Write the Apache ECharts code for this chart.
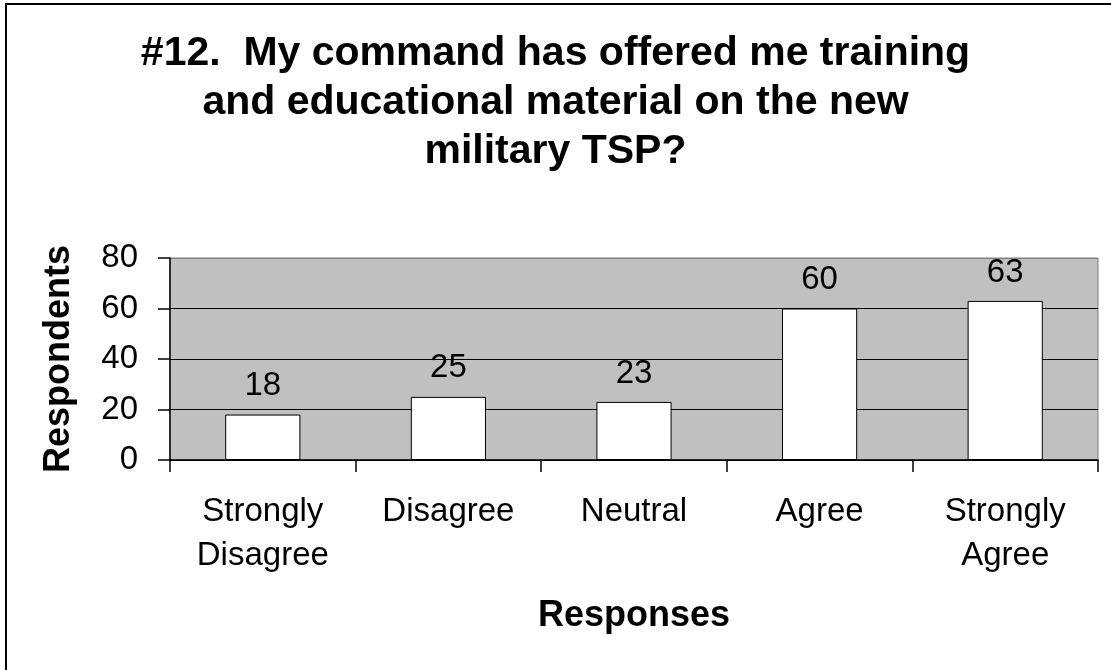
<!DOCTYPE html>
<html>
<head>
<meta charset="utf-8">
<script src="https://cdn.jsdelivr.net/npm/echarts@6/dist/echarts.min.js"></script>
<style>
  html, body { margin: 0; padding: 0; background: #fff; }
  #chart { width: 1111px; height: 670px; }
</style>
</head>
<body>
<div id="chart"></div>
<script>
var categories = ['Strongly\nDisagree', 'Disagree', 'Neutral', 'Agree', 'Strongly\nAgree'];
var respondents = [18, 25, 23, 60, 63];
var yTicks = { min: 0, max: 80, interval: 20 };

var fontFamily = '"Liberation Sans", Arial, sans-serif';
var chartDom = document.getElementById('chart');
var myChart = echarts.init(chartDom);

var option = {
  animation: false,
  backgroundColor: '#fff',
  textStyle: { fontFamily: fontFamily, color: '#000' },
  title: {
    text: '#12.  My command has offered me training\nand educational material on the new\nmilitary TSP?',
    left: 'center',
    top: 29,
    padding: 0,
    textStyle: {
      fontFamily: fontFamily,
      fontSize: 41,
      fontWeight: 'bold',
      color: '#000',
      lineHeight: 49,
      align: 'center'
    }
  },
  graphic: [{
    type: 'rect',
    shape: { x: 6, y: 4, width: 1200, height: 800 },
    style: { fill: 'none', stroke: '#000', lineWidth: 2 },
    silent: true
  }],
  grid: {
    left: 170,
    right: 13,
    top: 258,
    bottom: 210,
    show: true,
    backgroundColor: '#C0C0C0',
    borderColor: '#808080',
    borderWidth: 1
  },
  xAxis: {
    type: 'category',
    data: categories,
    name: 'Responses',
    nameLocation: 'middle',
    nameGap: 138,
    nameTextStyle: { fontFamily: fontFamily, fontSize: 36, fontWeight: 'bold', color: '#000' },
    axisLine: { show: true, lineStyle: { color: '#000', width: 1.5 } },
    axisTick: { show: true, length: 12, lineStyle: { color: '#000', width: 1.5 } },
    axisLabel: {
      fontFamily: fontFamily,
      fontSize: 33,
      color: '#000',
      lineHeight: 44,
      margin: 30,
      interval: 0
    },
    splitLine: { show: false }
  },
  yAxis: {
    type: 'value',
    min: yTicks.min,
    max: yTicks.max,
    interval: yTicks.interval,
    name: 'Respondents',
    nameLocation: 'middle',
    nameRotate: 90,
    nameGap: 93,
    nameTextStyle: { fontFamily: fontFamily, fontSize: 36, fontWeight: 'bold', color: '#000' },
    axisLine: { show: true, lineStyle: { color: '#000', width: 1.5 } },
    axisTick: { show: true, length: 12, lineStyle: { color: '#000', width: 1.5 } },
    axisLabel: { fontFamily: fontFamily, fontSize: 33, color: '#000', margin: 32 },
    splitLine: {
      show: true,
      lineStyle: { color: ['#000', '#000', '#000', '#000', '#808080'], width: 1 }
    }
  },
  series: [{
    type: 'bar',
    data: respondents,
    barWidth: '40.5%',
    itemStyle: { color: '#fff', borderColor: '#000', borderWidth: 1 },
    label: {
      show: true,
      position: 'top',
      distance: 12,
      fontFamily: fontFamily,
      fontSize: 33,
      color: '#000'
    }
  }]
};

option && myChart.setOption(option, true);
window.addEventListener('resize', function () { myChart.resize(); });
</script>
</body>
</html>
